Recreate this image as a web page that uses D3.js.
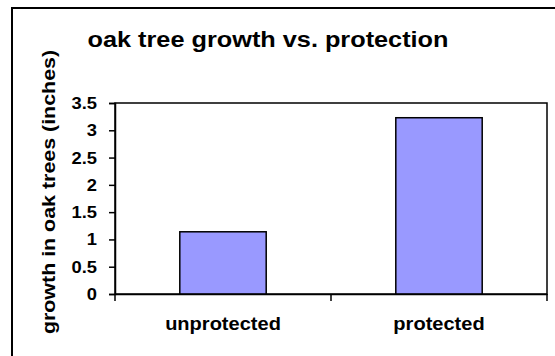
<!DOCTYPE html>
<html><head><meta charset="utf-8">
<script src="https://cdn.jsdelivr.net/npm/d3@7"></script>
<style>body{margin:0;background:#fff}svg{display:block}text{font-family:"Liberation Sans",Arial,sans-serif;font-weight:bold;fill:#000}</style>
</head><body>
<script>
const categories = ["unprotected", "protected"];
const values = [1.14, 3.23];
const yTicks = [0, 0.5, 1, 1.5, 2, 2.5, 3, 3.5];
const yTickLabels = ["0", "0.5", "1", "1.5", "2", "2.5", "3", "3.5"];
const title = "oak tree growth vs. protection";
const yTitle = "growth in oak trees (inches)";

const W = 555, H = 356;
const FONT = '"Liberation Sans",Arial,sans-serif';
const svg = d3.select("body").append("svg").attr("width", W).attr("height", H);
svg.append("rect").attr("x", 12).attr("y", 8).attr("width", 600).attr("height", 400)
  .attr("fill", "#fff").attr("stroke", "#000").attr("stroke-width", 2);

const L = 115, R = 547, T = 103, B = 294;
const x = d3.scaleBand().domain(categories).range([L, R]).padding(0);
const y = d3.scaleLinear().domain([0, 3.5]).range([B, T]);

svg.append("rect").attr("x", L).attr("y", T).attr("width", R - L).attr("height", B - T)
  .attr("fill", "#fff").attr("stroke", "#000").attr("stroke-width", 1.5);

const bw = x.bandwidth() * 0.4;
svg.selectAll("rect.bar").data(values).join("rect").attr("class", "bar")
  .attr("x", (d, i) => x(categories[i]) + (x.bandwidth() - bw) / 2)
  .attr("y", d => y(d)).attr("width", bw).attr("height", d => y(0) - y(d))
  .attr("fill", "#9999FF").attr("stroke", "#000").attr("stroke-width", 1.5);

const yAxis = d3.axisLeft(y).tickValues(yTicks).tickFormat((d, i) => yTickLabels[i]).tickSize(6).tickPadding(11);
const gy = svg.append("g").attr("transform", `translate(${L},0)`).call(yAxis);
gy.select(".domain").attr("stroke-width", 1.5);
gy.selectAll(".tick line").attr("stroke-width", 1.5);
gy.selectAll(".tick text").style("font-size", "17px").style("font-family", FONT).style("font-weight", "bold")
  .attr("fill", "#000").attr("x", 0).attr("transform", "translate(-18,0) scale(1.08,1)");

const xAxis = d3.axisBottom(x).tickSize(0).tickPadding(23);
const gx = svg.append("g").attr("transform", `translate(0,${B})`).call(xAxis);
gx.select(".domain").attr("stroke-width", 1.5);
gx.selectAll(".tick text").style("font-size", "19px").style("font-family", FONT).style("font-weight", "bold")
  .attr("fill", "#000").attr("transform", "scale(1.055,1)");
const bounds = [L].concat(categories.map(c => x(c) + x.bandwidth()));
gx.selectAll("line.bt").data(bounds).join("line").attr("class", "bt")
  .attr("x1", d => d).attr("x2", d => d).attr("y1", 0).attr("y2", 7)
  .attr("stroke", "#000").attr("stroke-width", 1.5);

svg.append("text").attr("transform", "translate(268,47) scale(1.15,1)").attr("text-anchor", "middle")
  .style("font-size", "22px").text(title);
svg.append("text").attr("transform", "translate(55,192) rotate(-90) scale(1.19,1)").attr("text-anchor", "middle")
  .style("font-size", "18px").text(yTitle);
</script>
</body></html>
